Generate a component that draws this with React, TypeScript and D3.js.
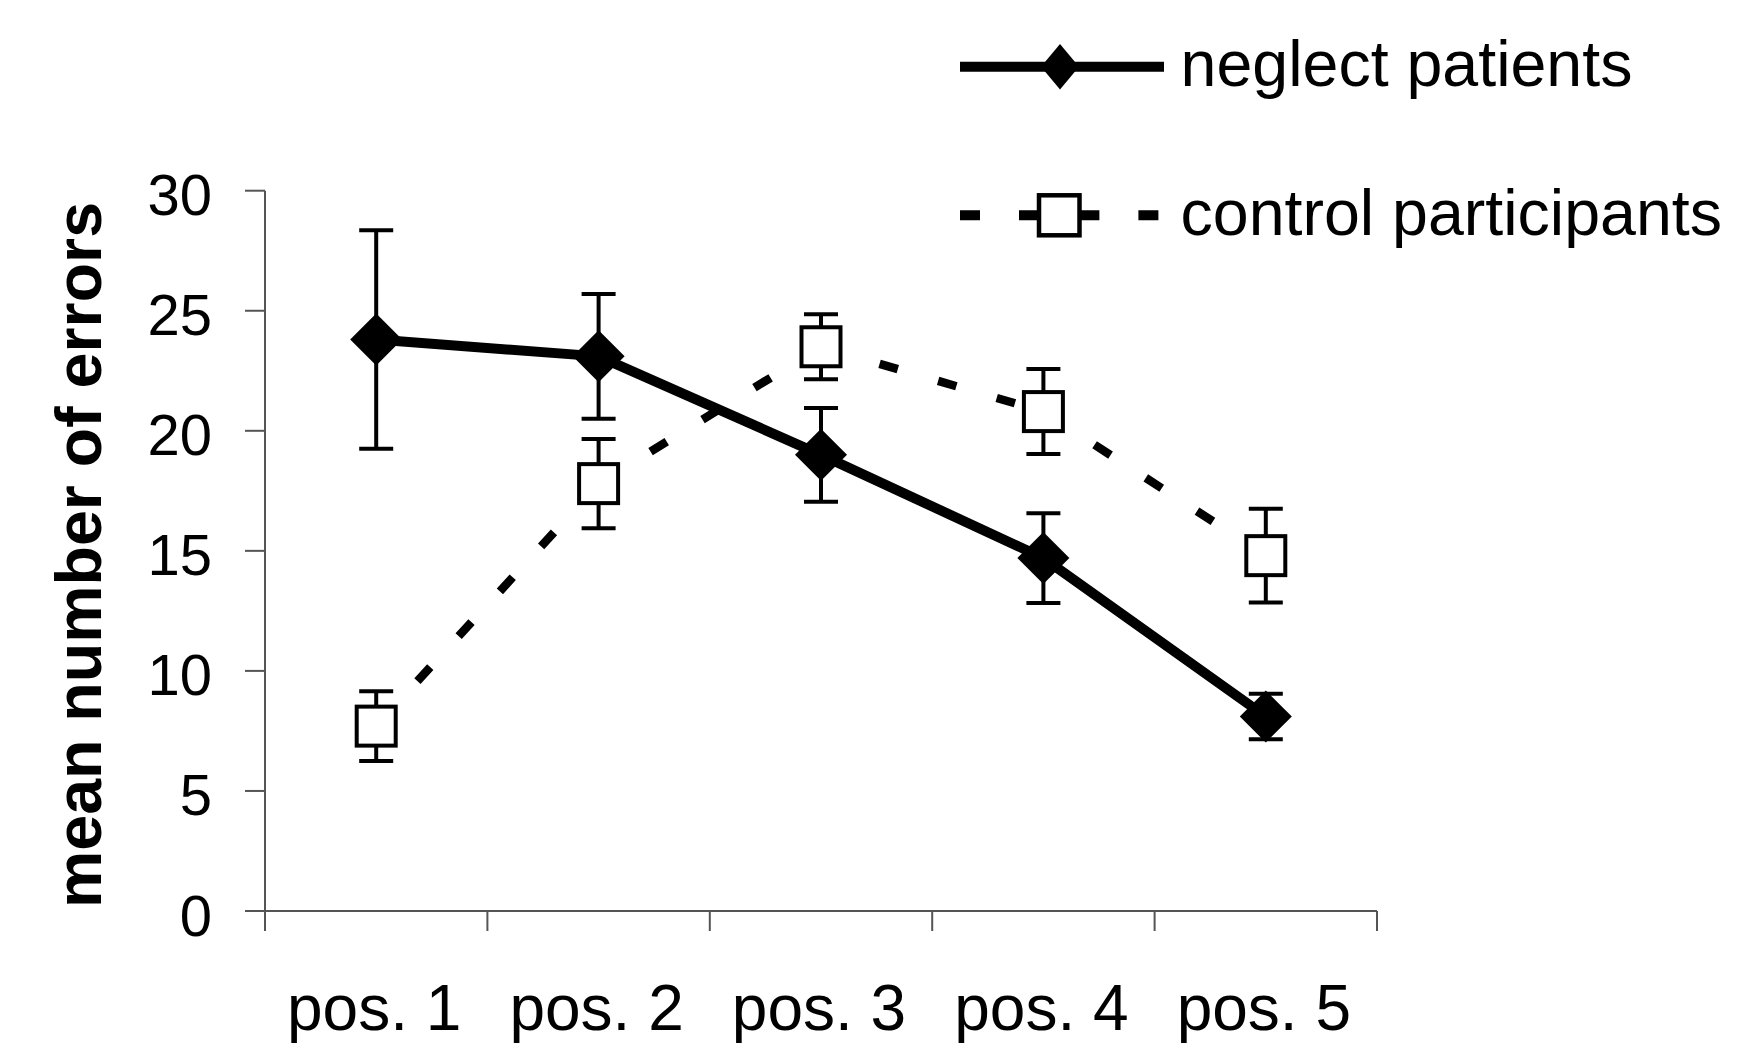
import React from "react";
import * as d3 from "d3";

const categories = ["pos. 1", "pos. 2", "pos. 3", "pos. 4", "pos. 5"];
const neglectMeans = [23.8, 23.1, 19.0, 14.7, 8.1];
const neglectErr = [4.55, 2.6, 1.95, 1.87, 0.95];
const controlMeans = [7.7, 17.8, 23.5, 20.8, 14.8];
const controlErr = [1.45, 1.86, 1.35, 1.77, 1.95];
const yTicks = [0, 5, 10, 15, 20, 25, 30];
const seriesNames = ["neglect patients", "control participants"];

const W = 1756;
const H = 1053;
const AXIS = "#555555";
const FONT = "'Liberation Sans', Arial, Helvetica, sans-serif";

export default function App() {
  const x = d3.scaleBand<string>().domain(categories).range([265, 1377]);
  const y = d3.scaleLinear().domain([0, 30]).range([911, 190.7]);
  const cx = (c: string) => (x(c) as number) + x.bandwidth() / 2;

  const solidLine = d3
    .line<number>()
    .x((_, i) => cx(categories[i]))
    .y((d) => y(d));

  const diamond = (hx: number, hy: number) =>
    `M0,${-hy}L${hx},0L0,${hy}L${-hx},0Z`;

  const boundaries = [...categories.map((c) => x(c) as number), 1377];

  const errorBars = (means: number[], errs: number[], key: string) =>
    means.map((m, i) => {
      const px = cx(categories[i]);
      const top = y(m + errs[i]);
      const bot = y(m - errs[i]);
      return (
        <g key={key + i} stroke="#000" strokeWidth={4} fill="none">
          <line x1={px} x2={px} y1={top} y2={bot} />
          <line x1={px - 17} x2={px + 17} y1={top} y2={top} />
          <line x1={px - 17} x2={px + 17} y1={bot} y2={bot} />
        </g>
      );
    });

  return (
    <svg
      width={W}
      height={H}
      style={{ position: "absolute", left: 0, top: 0, background: "#fff" }}
    >
      <rect x={0} y={0} width={W} height={H} fill="#fff" />
      {/* axes */}
      <g stroke={AXIS} strokeWidth={2} fill="none">
        <line x1={265} x2={265} y1={y(30)} y2={931} />
        <line x1={245} x2={1377} y1={y(0)} y2={y(0)} />
        {yTicks.map((t) => (
          <line key={"yt" + t} x1={245} x2={265} y1={y(t)} y2={y(t)} />
        ))}
        {boundaries.map((b, i) => (
          <line key={"xt" + i} x1={b} x2={b} y1={y(0)} y2={931} />
        ))}
      </g>
      {yTicks.map((t) => (
        <text
          key={"yl" + t}
          x={212}
          y={y(t) + 24.5}
          textAnchor="end"
          fontFamily={FONT}
          fontSize={58}
          fill="#000"
        >
          {t}
        </text>
      ))}
      {categories.map((c) => (
        <text
          key={"xl" + c}
          x={cx(c) - 2}
          y={1030}
          textAnchor="middle"
          fontFamily={FONT}
          fontSize={64}
          fill="#000"
        >
          {c}
        </text>
      ))}
      <text
        transform={`translate(100.7,555) rotate(-90)`}
        textAnchor="middle"
        fontFamily={FONT}
        fontSize={64.5}
        fontWeight="bold"
        fill="#000"
      >
        mean number of errors
      </text>

      {/* neglect series */}
      {errorBars(neglectMeans, neglectErr, "ne")}
      <path
        d={solidLine(neglectMeans) as string}
        fill="none"
        stroke="#000"
        strokeWidth={10}
        strokeLinejoin="round"
      />
      {neglectMeans.map((m, i) => (
        <path
          key={"nd" + i}
          d={diamond(26, 26)}
          transform={`translate(${cx(categories[i])},${y(m)})`}
          fill="#000"
        />
      ))}

      {/* control series */}
      {errorBars(controlMeans, controlErr, "ce")}
      {controlMeans.slice(1).map((m, k) => {
        const i = k + 1;
        return (
          <line
            key={"cs" + i}
            x1={cx(categories[i - 1])}
            y1={y(controlMeans[i - 1])}
            x2={cx(categories[i])}
            y2={y(m)}
            stroke="#000"
            strokeWidth={8.5}
            strokeDasharray="19 42"
            strokeLinecap="butt"
          />
        );
      })}
      {controlMeans.map((m, i) => (
        <rect
          key={"cb" + i}
          x={cx(categories[i]) - 19.5}
          y={y(m) - 19.5}
          width={39}
          height={39}
          fill="#fff"
          stroke="#000"
          strokeWidth={4}
        />
      ))}

      {/* legend */}
      <line x1={960} x2={1164} y1={66.7} y2={66.7} stroke="#000" strokeWidth={10} />
      <path d={diamond(19, 22.7)} transform="translate(1060,66.7)" fill="#000" />
      <text x={1180.6} y={86} fontFamily={FONT} fontSize={64.5} fill="#000">
        {seriesNames[0]}
      </text>

      <line x1={960} x2={1059.2} y1={215.3} y2={215.3} stroke="#000" strokeWidth={10} strokeDasharray="20 39" />
      <line x1={1158.4} x2={1059.2} y1={215.3} y2={215.3} stroke="#000" strokeWidth={10} strokeDasharray="20 39" />
      <rect x={1039} y={195.3} width={40.5} height={40} fill="#fff" stroke="#000" strokeWidth={4.5} />
      <text x={1180.6} y={235} fontFamily={FONT} fontSize={64.5} fill="#000">
        {seriesNames[1]}
      </text>
    </svg>
  );
}
